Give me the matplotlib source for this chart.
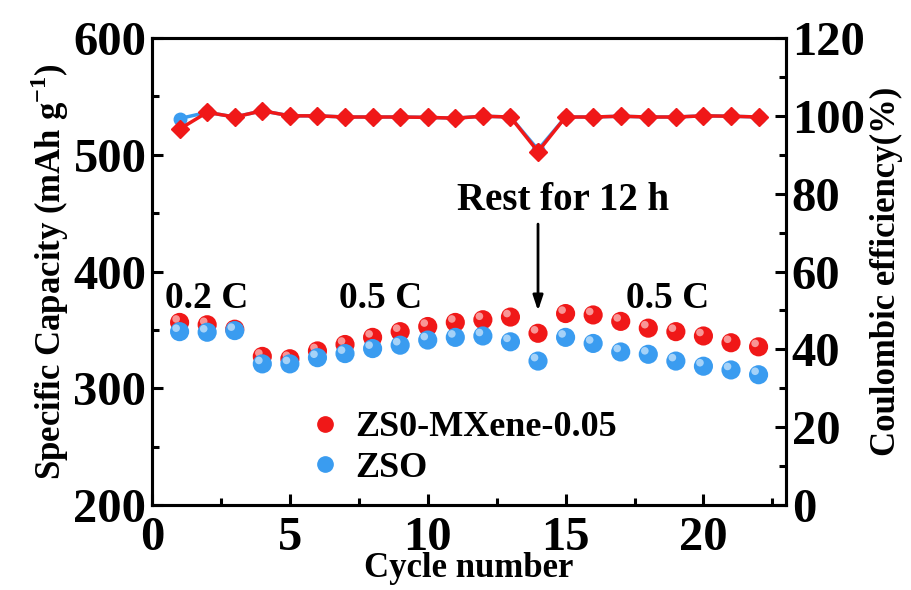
import matplotlib.pyplot as plt
import matplotlib.transforms as mtransforms
from matplotlib.ticker import MultipleLocator
from matplotlib.lines import Line2D

plt.rcParams['font.family'] = 'Liberation Serif'
plt.rcParams['font.weight'] = 'bold'
plt.rcParams['axes.labelweight'] = 'bold'
plt.rcParams['mathtext.fontset'] = 'custom'
plt.rcParams['mathtext.rm'] = 'Liberation Serif:bold'
plt.rcParams['mathtext.bf'] = 'Liberation Serif:bold'

cycles = list(range(1, 23))
cap_mxene = [356.4, 354.4, 350.6, 327.3, 325.3, 332.0, 337.5, 343.6, 348.5, 352.9, 356.4,
             358.7, 361.0, 347.1, 364.0, 362.8, 357.3, 351.5, 348.5, 344.8, 339.0, 335.5]
cap_zso = [348.5, 348.0, 349.4, 320.9, 320.9, 326.2, 329.7, 334.0, 336.9, 341.3, 343.6,
           344.8, 339.8, 323.3, 343.6, 338.4, 331.1, 329.1, 323.3, 318.9, 315.7, 311.6]
ce_mxene = [96.6, 100.9, 99.7, 101.3, 100.0, 100.0, 99.7, 99.7, 99.7, 99.6, 99.4,
            99.9, 99.7, 90.8, 99.7, 99.7, 99.9, 99.7, 99.7, 100.0, 99.9, 99.7]
ce_zso = [99.3, 100.9, 99.7, 101.3, 100.0, 100.0, 99.7, 99.7, 99.7, 99.6, 99.4,
          99.9, 99.7, 91.3, 99.7, 99.7, 99.9, 99.7, 99.7, 100.0, 99.9, 99.7]

red = '#f01818'
blue = '#3a9cf0'

fig = plt.figure(figsize=(9.12, 5.9), dpi=100)
ax = fig.add_axes([0.1667, 0.144, 0.6953, 0.7916])
ax2 = ax.twinx()


def balls(axis, x, y, color, z):
    # shaded sphere look: body plus a small highlight shifted up-left
    axis.scatter(x, y, s=190, color=color, edgecolors='none', zorder=z)
    shift = mtransforms.ScaledTranslation(-2.5 / 72, 2.5 / 72, fig.dpi_scale_trans)
    axis.scatter(x, y, s=30, color='white', alpha=0.55, edgecolors='none',
                 zorder=z + 0.1, transform=axis.transData + shift)


balls(ax, cycles, cap_mxene, red, 3)
balls(ax, cycles, cap_zso, blue, 4)

ax2.plot(cycles, ce_zso, color=blue, lw=2.5, marker='o', ms=9, zorder=2)
ax2.plot(cycles, ce_mxene, color=red, lw=2.5, marker='D', ms=9, zorder=3)

ax.set_xlim(0, 23)
ax.set_ylim(200, 600)
ax2.set_ylim(0, 120)
ax.xaxis.set_major_locator(MultipleLocator(5))
ax.xaxis.set_minor_locator(MultipleLocator(2.5))
ax.yaxis.set_major_locator(MultipleLocator(100))
ax.yaxis.set_minor_locator(MultipleLocator(50))
ax2.yaxis.set_major_locator(MultipleLocator(20))
ax2.yaxis.set_minor_locator(MultipleLocator(10))

for a in (ax, ax2):
    a.tick_params(which='major', direction='in', length=8, width=2.2, labelsize=35, pad=4)
    a.tick_params(which='minor', direction='in', length=5, width=2.2)
    for sp in a.spines.values():
        sp.set_linewidth(2.2)
ax.tick_params(axis='x', pad=8)

ax.set_xlabel('Cycle number', fontsize=25, labelpad=-6)
ax.set_ylabel(r'Specific Capacity (mAh g$^{\mathbf{-1}}$)', fontsize=25, labelpad=2)
ax2.set_ylabel('Coulombic efficiency(%)', fontsize=25, labelpad=4)

ax.text(2.0, 377, '0.2 C', fontsize=27, ha='center', va='center')
ax.text(8.3, 377, '0.5 C', fontsize=27, ha='center', va='center')
ax.text(18.7, 377, '0.5 C', fontsize=27, ha='center', va='center')
ax.text(14.9, 461, 'Rest for 12 h', fontsize=28, ha='center', va='center')
ax.annotate('', xy=(14, 364), xytext=(14, 443),
            arrowprops=dict(arrowstyle='-|>,head_length=0.9,head_width=0.3',
                            color='black', lw=2))

handles = [Line2D([], [], ls='none', marker='o', ms=11, color=red),
           Line2D([], [], ls='none', marker='o', ms=11, color=blue)]
ax.legend(handles, ['ZS0-MXene-0.05', 'ZSO'], loc='upper left',
          bbox_to_anchor=(0.21, 0.24), frameon=False, fontsize=26,
          handletextpad=0.25, labelspacing=0.2, borderpad=0, handlelength=1.2)

fig.savefig('out.png', dpi=100)
